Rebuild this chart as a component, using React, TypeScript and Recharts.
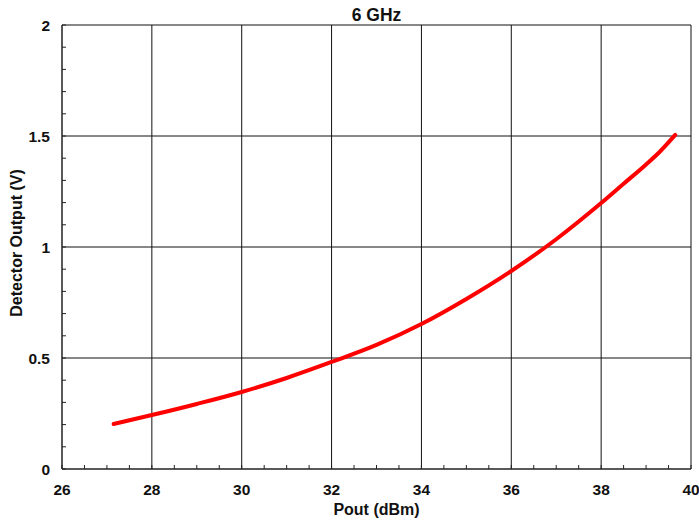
import React from "react";
import { Line, LineChart, ReferenceLine, XAxis, YAxis } from "recharts";

document.body.style.margin = "0";

const pout = [27.15, 28, 29, 30, 31, 32, 33, 34, 35, 36, 37, 38, 38.5, 39, 39.3, 39.65];
const detectorV = [0.203, 0.243, 0.293, 0.347, 0.41, 0.482, 0.559, 0.653, 0.766, 0.892, 1.035, 1.198, 1.285, 1.372, 1.428, 1.505];

const xTicks = [26, 28, 30, 32, 34, 36, 38, 40];
const yTicks = [0, 0.5, 1, 1.5, 2];
const xMinorTicks = [26, 26.5, 27, 27.5, 28, 28.5, 29, 29.5, 30, 30.5, 31, 31.5, 32, 32.5, 33, 33.5, 34, 34.5, 35, 35.5, 36, 36.5, 37, 37.5, 38, 38.5, 39, 39.5, 40];
const yMinorTicks = [0, 0.1, 0.2, 0.3, 0.4, 0.5, 0.6, 0.7, 0.8, 0.9, 1, 1.1, 1.2, 1.3, 1.4, 1.5, 1.6, 1.7, 1.8, 1.9, 2];

const data = pout.map((p, i) => ({ pout: p, v: detectorV[i] }));

const font = "'Liberation Sans', Arial, sans-serif";

function XTick({ x, y, payload }: any) {
  const major = xTicks.includes(payload.value);
  return (
    <g>
      <line x1={x} y1={y} x2={x} y2={y - 4} stroke="#222" strokeWidth={1} />
      {major && (
        <text x={x} y={y + 26} textAnchor="middle" fontFamily={font} fontWeight="bold" fontSize={15.5} fill="#111">
          {payload.value}
        </text>
      )}
    </g>
  );
}

function YTick({ x, y, payload }: any) {
  const major = yTicks.some((t) => Math.abs(t - payload.value) < 1e-6);
  return (
    <g>
      <line x1={x} y1={y} x2={x + 4} y2={y} stroke="#222" strokeWidth={1} />
      {major && (
        <text x={x - 12} y={y + 5.5} textAnchor="end" fontFamily={font} fontWeight="bold" fontSize={15.5} fill="#111">
          {payload.value}
        </text>
      )}
    </g>
  );
}

export default function App() {
  return (
    <div style={{ position: "relative", width: 699, height: 524, background: "#fff", fontFamily: font }}>
      <LineChart width={699} height={524} data={data} margin={{ top: 25, right: 8, bottom: 0, left: 0 }}>
        <XAxis
          dataKey="pout"
          type="number"
          domain={[26, 40]}
          ticks={xMinorTicks}
          interval={0}
          tickSize={0}
          tickMargin={0}
          tick={<XTick />}
          height={55}
          axisLine={{ stroke: "#222", strokeWidth: 1.5 }}
          allowDataOverflow
        />
        <YAxis
          type="number"
          domain={[0, 2]}
          ticks={yMinorTicks}
          interval={0}
          tickSize={0}
          tickMargin={0}
          tick={<YTick />}
          width={62}
          axisLine={{ stroke: "#222", strokeWidth: 1.5 }}
          allowDataOverflow
        />
        {xTicks.slice(1).map((t) => (
          <ReferenceLine key={"x" + t} x={t} stroke="#111" strokeWidth={1} />
        ))}
        {yTicks.slice(1).map((t) => (
          <ReferenceLine key={"y" + t} y={t} stroke="#111" strokeWidth={1} />
        ))}
        <Line
          dataKey="v"
          type="monotone"
          stroke="#ff0000"
          strokeWidth={4}
          dot={false}
          isAnimationActive={false}
          strokeLinecap="round"
        />
      </LineChart>
      <div style={{ position: "absolute", left: 0, width: 753, top: 14.5, transform: "translateY(-50%)", textAlign: "center", fontWeight: "bold", fontSize: 17.5, lineHeight: "20px", color: "#111" }}>
        6 GHz
      </div>
      <div style={{ position: "absolute", left: 0, width: 753, top: 510, transform: "translateY(-50%)", textAlign: "center", fontWeight: "bold", fontSize: 16, lineHeight: "18px", color: "#111" }}>
        Pout (dBm)
      </div>
      <div
        style={{
          position: "absolute",
          left: 17,
          top: 243,
          transform: "translate(-50%, -50%) rotate(-90deg)",
          whiteSpace: "nowrap",
          fontWeight: "bold",
          fontSize: 16,
          lineHeight: "18px",
          color: "#111",
        }}
      >
        Detector Output (V)
      </div>
    </div>
  );
}
